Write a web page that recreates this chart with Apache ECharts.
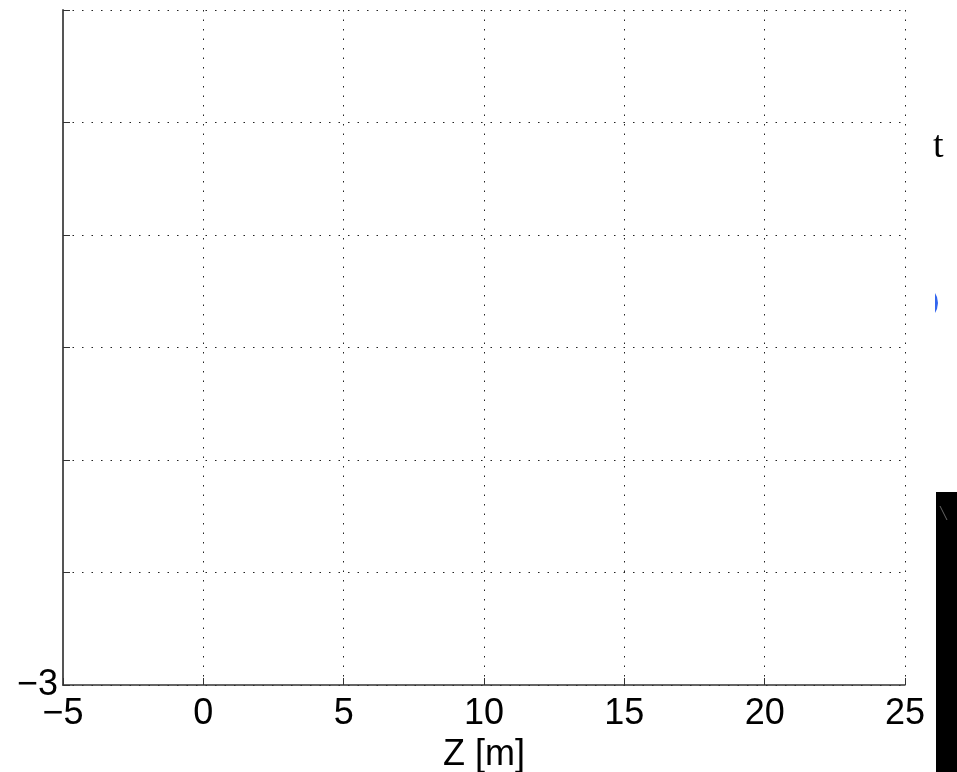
<!DOCTYPE html>
<html>
<head>
<meta charset="utf-8">
<script src="https://cdn.jsdelivr.net/npm/echarts@6/dist/echarts.min.js"></script>
<style>
html,body{margin:0;padding:0;background:#fff;}
#chart{width:957px;height:772px;}
</style>
</head>
<body>
<div id="chart"></div>
<script>
// Axis ranges / ticks
const xMin = -5, xMax = 25, xStep = 5;
const yMin = -3, yMax = 3, yStep = 1;
const yShownLabels = [-3];
const xTitle = 'Z [m]';
const sideText = 't';
// No plotted data visible in the reference
const seriesData = [];

const chart = echarts.init(document.getElementById('chart'));
const font = 'Liberation Sans, Arial, Helvetica, sans-serif';
const fmt = v => (v < 0 ? '\u2212' + Math.abs(v) : String(v));

chart.setOption({
  animation: false,
  backgroundColor: '#fff',
  grid: {left: 63, right: 52, top: 10, bottom: 87, containLabel: false, outerBoundsMode: 'none'},
  xAxis: {
    type: 'value', min: xMin, max: xMax, interval: xStep,
    name: xTitle, nameLocation: 'middle', nameGap: 51,
    nameTextStyle: {fontFamily: font, fontSize: 36, color: '#000'},
    axisLine: {show: true, onZero: false, lineStyle: {color: '#333', width: 1.5}},
    axisTick: {show: true, inside: true, length: 7, lineStyle: {color: '#333'}},
    axisLabel: {fontFamily: font, fontSize: 36, color: '#000', margin: 11, formatter: fmt},
    splitLine: {show: true, lineStyle: {color: '#222', type: [1.5, 8], width: 1}}
  },
  yAxis: {
    type: 'value', min: yMin, max: yMax, interval: yStep,
    axisLine: {show: true, onZero: false, lineStyle: {color: '#555', width: 2}},
    axisTick: {show: true, inside: true, length: 7, lineStyle: {color: '#333'}},
    axisLabel: {fontFamily: font, fontSize: 36, color: '#000', margin: 5,
      formatter: v => yShownLabels.includes(v) ? fmt(v) : ''},
    splitLine: {show: true, lineStyle: {color: '#222', type: [1.5, 8], width: 1}}
  },
  series: [{type: 'line', data: seriesData, showSymbol: false}],
  graphic: [
    {type: 'text', left: 933, top: 128, style: {text: sideText, fontFamily: 'Liberation Serif, Times New Roman, serif', fontSize: 38, fill: '#000'}},
    {type: 'polygon', shape: {points: [[935, 293], [937, 297], [938, 303], [937, 309], [935, 313]]}, style: {fill: '#3366ee'}},
    {type: 'rect', shape: {x: 936, y: 492, width: 21, height: 280}, style: {fill: '#000'}},
    {type: 'line', shape: {x1: 940, y1: 506, x2: 947, y2: 520}, style: {stroke: '#666', lineWidth: 1}}
  ]
});
</script>
</body>
</html>
